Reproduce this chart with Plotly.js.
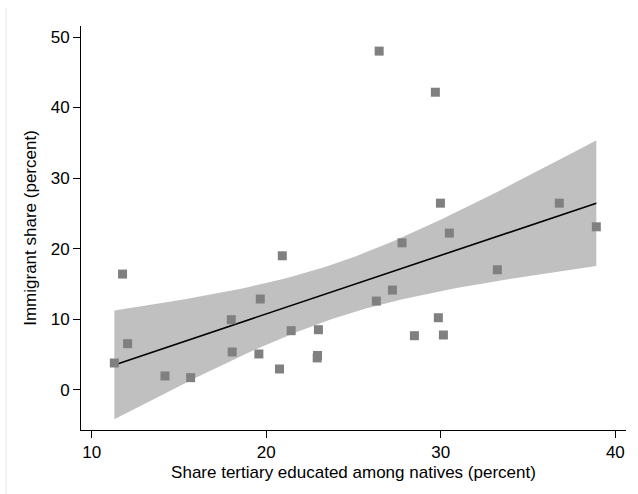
<!DOCTYPE html>
<html>
<head>
<meta charset="utf-8">
<script src="https://cdn.plot.ly/plotly-3.0.1.min.js"></script>
<style>html,body{margin:0;padding:0;background:#fff;}#chart{width:638px;height:494px;}</style>
</head>
<body>
<div id="chart"></div>
<script>
// Share tertiary educated among natives (percent)
const tertiaryShare = [11.30, 11.77, 12.06, 14.20, 15.67, 18.00, 18.05, 19.66, 19.58, 20.92, 20.76, 21.43, 22.99, 22.92, 22.94,
  26.31, 27.23, 27.78, 26.47, 29.69, 29.98, 30.49, 29.86, 28.49, 30.15, 33.24, 36.79, 38.91];
// Immigrant share (percent)
const immigrantShare = [3.78, 16.39, 6.52, 1.94, 1.70, 9.92, 5.34, 12.85, 5.06, 18.98, 2.93, 8.36, 8.50, 4.50, 4.85,
  12.56, 14.12, 20.82, 48.0, 42.17, 26.44, 22.20, 10.20, 7.65, 7.75, 17.0, 26.44, 23.09];
const xTicks = [10, 20, 30, 40];
const yTicks = [0, 10, 20, 30, 40, 50];

// Linear fit with 95% confidence interval of the mean prediction
const n = tertiaryShare.length;
const mx = tertiaryShare.reduce((a, b) => a + b, 0) / n;
const my = immigrantShare.reduce((a, b) => a + b, 0) / n;
let sxx = 0, sxy = 0;
for (let i = 0; i < n; i++) { sxx += (tertiaryShare[i] - mx) ** 2; sxy += (tertiaryShare[i] - mx) * (immigrantShare[i] - my); }
const b = sxy / sxx, a = my - b * mx;
let sse = 0;
for (let i = 0; i < n; i++) sse += (immigrantShare[i] - a - b * tertiaryShare[i]) ** 2;
const s = Math.sqrt(sse / (n - 2));
const tcrit = 2.0555; // t(0.975, df=26)
const xmin = Math.min(...tertiaryShare), xmax = Math.max(...tertiaryShare);
const gx = [], fit = [], lo = [], hi = [];
for (let k = 0; k <= 100; k++) {
  const x = xmin + (xmax - xmin) * k / 100;
  const yhat = a + b * x;
  const se = s * Math.sqrt(1 / n + (x - mx) ** 2 / sxx);
  gx.push(x); fit.push(yhat); lo.push(yhat - tcrit * se); hi.push(yhat + tcrit * se);
}

const font = {family: 'Liberation Sans, Arial, sans-serif', size: 17, color: '#000'};
const data = [
  {x: gx, y: lo, type: 'scatter', mode: 'lines', line: {width: 0, color: 'rgba(0,0,0,0)'}, hoverinfo: 'skip', showlegend: false},
  {x: gx, y: hi, type: 'scatter', mode: 'lines', line: {width: 0, color: 'rgba(0,0,0,0)'}, fill: 'tonexty', fillcolor: 'rgb(192,192,192)', hoverinfo: 'skip', showlegend: false},
  {x: gx, y: fit, type: 'scatter', mode: 'lines', line: {width: 1.6, color: '#000'}, showlegend: false},
  {x: tertiaryShare, y: immigrantShare, type: 'scatter', mode: 'markers',
   marker: {symbol: 'square', size: 9, color: 'rgb(128,128,128)', line: {width: 0}}, showlegend: false}
];
const layout = {
  width: 638, height: 494,
  margin: {l: 81, r: 12, t: 26, b: 64},
  paper_bgcolor: '#fff', plot_bgcolor: '#fff',
  font: font,
  showlegend: false,
  xaxis: {
    range: [9.39, 40.61], tickvals: xTicks, ticktext: xTicks.map(String),
    showgrid: false, zeroline: false, showline: true, linecolor: '#000', linewidth: 1,
    ticks: 'outside', ticklen: 7, tickcolor: '#000', tickwidth: 1,
    tickfont: font,
    title: {text: 'Share tertiary educated among natives (percent)', font: font, standoff: 4}
  },
  yaxis: {
    range: [-5.72, 51.56], tickvals: yTicks, ticktext: yTicks.map(String),
    showgrid: false, zeroline: false, showline: true, linecolor: '#000', linewidth: 1,
    ticks: 'outside', ticklen: 7, tickcolor: '#000', tickwidth: 1,
    tickfont: font,
    title: {text: 'Immigrant share (percent)', font: font, standoff: 9}
  },
  shapes: [{
    type: 'line', xref: 'paper', yref: 'paper', xsizemode: 'pixel', ysizemode: 'pixel',
    xanchor: 0, yanchor: 0, x0: -75, x1: -75, y0: 422, y1: -64,
    line: {color: '#e6e6e6', width: 1}
  }]
};
Plotly.newPlot('chart', data, layout, {displayModeBar: false, staticPlot: true});
</script>
</body>
</html>
